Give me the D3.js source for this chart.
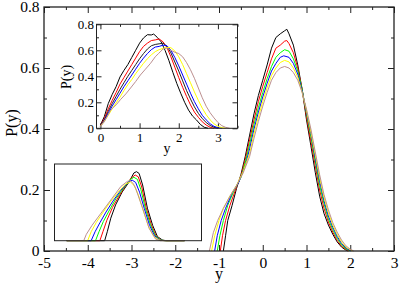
<!DOCTYPE html>
<html>
<head>
<meta charset="utf-8">
<script src="https://cdn.jsdelivr.net/npm/d3@7"></script>
<style>
  body { margin: 0; background: #fff; }
  svg text { font-family: "Liberation Serif", "Times New Roman", "DejaVu Serif", serif; fill: #000; }
</style>
</head>
<body>
<div id="chart"></div>
<script>
var w = 399, h = 283;
var serif = "'Liberation Serif', 'Times New Roman', 'DejaVu Serif', serif";

var seriesColors = ["#000000", "#ff0000", "#00ff00", "#0000ff", "#ffff00", "#bc8f8f"];
var insetColors = ["#000000", "#ff0000", "#222222", "#0000ff", "#ffff00", "#bc8f8f"];

//main plot: P(y) vs y, one [y, P] list per curve
var mainBlack = [[-0.9,0],[-0.85,0.05],[-0.8,0.1],[-0.7,0.15],[-0.6,0.205],[-0.5,0.25],[-0.4,0.31],[-0.3,0.38],[-0.2,0.45],[-0.1,0.51],[0,0.56],[0.1,0.61],[0.2,0.665],[0.3,0.70],[0.4,0.712],[0.5,0.722],[0.55,0.727],[0.6,0.712],[0.7,0.675],[0.8,0.61],[0.9,0.53],[1.0,0.43],[1.1,0.345],[1.2,0.258],[1.3,0.18],[1.4,0.123],[1.5,0.085],[1.6,0.055],[1.7,0.03],[1.8,0.013],[1.9,0.003],[1.95,0]];
var mainRed = [[-0.97,0],[-0.92,0.05],[-0.85,0.1],[-0.75,0.15],[-0.6,0.21],[-0.5,0.245],[-0.4,0.30],[-0.3,0.365],[-0.2,0.43],[-0.1,0.49],[0,0.54],[0.1,0.585],[0.2,0.63],[0.3,0.665],[0.4,0.675],[0.5,0.688],[0.55,0.69],[0.6,0.68],[0.7,0.65],[0.8,0.60],[0.9,0.53],[1.0,0.44],[1.1,0.36],[1.2,0.28],[1.3,0.2],[1.4,0.14],[1.5,0.095],[1.6,0.062],[1.7,0.035],[1.8,0.016],[1.9,0.005],[1.97,0]];
var mainGreen = [[-1.04,0],[-0.98,0.05],[-0.9,0.1],[-0.8,0.15],[-0.65,0.2],[-0.5,0.24],[-0.4,0.29],[-0.3,0.35],[-0.2,0.415],[-0.1,0.47],[0,0.52],[0.1,0.565],[0.2,0.605],[0.3,0.635],[0.4,0.65],[0.5,0.66],[0.6,0.655],[0.7,0.63],[0.8,0.59],[0.9,0.53],[1.0,0.45],[1.1,0.375],[1.2,0.295],[1.3,0.215],[1.4,0.155],[1.5,0.105],[1.6,0.07],[1.7,0.042],[1.8,0.02],[1.9,0.007],[2.0,0]];
var mainBlue = [[-1.1,0],[-1.04,0.05],[-0.95,0.1],[-0.85,0.14],[-0.7,0.19],[-0.55,0.225],[-0.4,0.28],[-0.3,0.335],[-0.2,0.40],[-0.1,0.455],[0,0.505],[0.1,0.55],[0.2,0.59],[0.3,0.615],[0.4,0.635],[0.48,0.64],[0.6,0.635],[0.7,0.615],[0.8,0.58],[0.9,0.525],[1.0,0.455],[1.1,0.385],[1.2,0.305],[1.3,0.23],[1.4,0.165],[1.5,0.115],[1.6,0.078],[1.7,0.048],[1.8,0.025],[1.9,0.01],[2.02,0]];
var mainYellow = [[-1.17,0],[-1.1,0.05],[-1.0,0.1],[-0.9,0.14],[-0.75,0.18],[-0.6,0.215],[-0.45,0.26],[-0.3,0.32],[-0.2,0.385],[-0.1,0.44],[0,0.49],[0.1,0.535],[0.2,0.575],[0.3,0.60],[0.4,0.618],[0.5,0.625],[0.6,0.62],[0.7,0.60],[0.8,0.57],[0.9,0.52],[1.0,0.46],[1.1,0.39],[1.2,0.315],[1.3,0.24],[1.4,0.175],[1.5,0.125],[1.6,0.085],[1.7,0.055],[1.8,0.03],[1.9,0.013],[2.0,0.004],[2.05,0]];
var mainBrown = [[-1.22,0],[-1.13,0.06],[-1.03,0.1],[-0.9,0.14],[-0.75,0.18],[-0.6,0.215],[-0.45,0.255],[-0.3,0.31],[-0.2,0.37],[-0.1,0.425],[0,0.475],[0.1,0.52],[0.2,0.56],[0.3,0.585],[0.4,0.60],[0.5,0.605],[0.6,0.60],[0.7,0.585],[0.8,0.56],[0.9,0.52],[1.0,0.465],[1.1,0.40],[1.2,0.325],[1.3,0.25],[1.4,0.185],[1.5,0.135],[1.6,0.093],[1.7,0.062],[1.8,0.036],[1.9,0.017],[2.0,0.006],[2.08,0]];

//upper inset
var topBlack = [[0,0.025],[0.1,0.09],[0.2,0.19],[0.3,0.26],[0.4,0.32],[0.5,0.395],[0.6,0.445],[0.7,0.49],[0.8,0.545],[0.9,0.6],[1.0,0.655],[1.1,0.695],[1.2,0.72],[1.3,0.718],[1.36,0.725],[1.45,0.70],[1.55,0.665],[1.65,0.6],[1.75,0.52],[1.85,0.43],[1.95,0.345],[2.05,0.27],[2.15,0.2],[2.25,0.14],[2.35,0.095],[2.45,0.065],[2.55,0.03],[2.65,0.008],[2.75,0]];
var topRed = [[0,0.02],[0.1,0.075],[0.2,0.15],[0.3,0.215],[0.4,0.275],[0.5,0.34],[0.6,0.39],[0.7,0.44],[0.8,0.49],[0.9,0.54],[1.0,0.59],[1.1,0.63],[1.2,0.655],[1.3,0.675],[1.4,0.68],[1.5,0.687],[1.6,0.665],[1.7,0.62],[1.8,0.55],[1.9,0.47],[2.0,0.39],[2.1,0.315],[2.2,0.245],[2.3,0.18],[2.4,0.125],[2.5,0.085],[2.6,0.05],[2.7,0.025],[2.8,0.008],[2.9,0]];
var topDark = [[0,0.02],[0.1,0.065],[0.2,0.13],[0.3,0.19],[0.4,0.245],[0.5,0.3],[0.6,0.35],[0.7,0.4],[0.8,0.445],[0.9,0.49],[1.0,0.535],[1.1,0.575],[1.2,0.61],[1.3,0.635],[1.4,0.645],[1.5,0.65],[1.6,0.655],[1.7,0.63],[1.8,0.58],[1.9,0.51],[2.0,0.44],[2.1,0.365],[2.2,0.29],[2.3,0.225],[2.4,0.165],[2.5,0.115],[2.6,0.075],[2.7,0.045],[2.8,0.022],[2.9,0.008],[3.0,0]];
var topBlue = [[0,0.015],[0.1,0.06],[0.2,0.115],[0.3,0.17],[0.4,0.22],[0.5,0.27],[0.6,0.32],[0.7,0.365],[0.8,0.41],[0.9,0.455],[1.0,0.5],[1.1,0.54],[1.2,0.575],[1.3,0.605],[1.4,0.625],[1.5,0.63],[1.6,0.64],[1.7,0.635],[1.8,0.6],[1.9,0.545],[2.0,0.48],[2.1,0.41],[2.2,0.34],[2.3,0.27],[2.4,0.205],[2.5,0.15],[2.6,0.1],[2.7,0.065],[2.8,0.035],[2.9,0.015],[3.0,0.005],[3.1,0]];
var topYellow = [[0,0.015],[0.1,0.055],[0.2,0.1],[0.3,0.15],[0.4,0.195],[0.5,0.24],[0.6,0.29],[0.7,0.335],[0.8,0.375],[0.9,0.42],[1.0,0.46],[1.1,0.5],[1.2,0.535],[1.3,0.565],[1.4,0.59],[1.5,0.605],[1.6,0.615],[1.7,0.622],[1.8,0.62],[1.9,0.595],[2.0,0.55],[2.1,0.49],[2.2,0.42],[2.3,0.35],[2.4,0.28],[2.5,0.215],[2.6,0.155],[2.7,0.105],[2.8,0.065],[2.9,0.035],[3.0,0.015],[3.1,0.005],[3.2,0]];
var topBrown = [[0,0.015],[0.1,0.05],[0.26,0.14],[0.4,0.18],[0.51,0.22],[0.65,0.265],[0.77,0.31],[0.9,0.36],[1.02,0.41],[1.15,0.455],[1.28,0.5],[1.4,0.55],[1.49,0.577],[1.6,0.61],[1.7,0.618],[1.8,0.6],[1.9,0.585],[2.0,0.575],[2.1,0.55],[2.2,0.505],[2.3,0.45],[2.4,0.385],[2.5,0.31],[2.6,0.235],[2.7,0.17],[2.8,0.12],[2.9,0.08],[3.0,0.045],[3.1,0.02],[3.2,0.007],[3.3,0]];

//lower inset (no tick labels in the picture, units read against the main y axis)
var lowBlack = [[-4.5,0],[-3.63,0],[-3.57,0.035],[-3.49,0.088],[-3.38,0.14],[-3.23,0.19],[-3.07,0.23],[-2.96,0.265],[-2.9,0.27],[-2.84,0.263],[-2.76,0.218],[-2.65,0.127],[-2.53,0.06],[-2.42,0.016],[-2.3,0.002],[-2.2,0],[-1.8,0]];
var lowRed = [[-4.5,0],[-3.74,0],[-3.67,0.035],[-3.58,0.08],[-3.45,0.13],[-3.3,0.175],[-3.15,0.215],[-3.02,0.245],[-2.93,0.257],[-2.86,0.25],[-2.78,0.21],[-2.68,0.13],[-2.56,0.062],[-2.45,0.018],[-2.33,0.002],[-2.22,0],[-1.8,0]];
var lowGreen = [[-4.5,0],[-3.84,0],[-3.76,0.035],[-3.66,0.075],[-3.52,0.12],[-3.37,0.165],[-3.2,0.205],[-3.05,0.238],[-2.96,0.248],[-2.88,0.24],[-2.8,0.2],[-2.7,0.128],[-2.58,0.062],[-2.47,0.02],[-2.35,0.003],[-2.24,0],[-1.8,0]];
var lowBlue = [[-4.5,0],[-3.94,0],[-3.85,0.035],[-3.74,0.07],[-3.6,0.112],[-3.44,0.155],[-3.27,0.195],[-3.1,0.228],[-3.0,0.237],[-2.92,0.228],[-2.83,0.19],[-2.72,0.125],[-2.6,0.06],[-2.49,0.02],[-2.37,0.003],[-2.26,0],[-1.8,0]];
var lowYellow = [[-4.5,0],[-4.02,0],[-3.94,0.035],[-3.82,0.072],[-3.66,0.113],[-3.5,0.152],[-3.32,0.19],[-3.15,0.222],[-3.04,0.23],[-2.95,0.215],[-2.86,0.18],[-2.75,0.12],[-2.63,0.058],[-2.51,0.018],[-2.39,0.003],[-2.28,0],[-1.8,0]];
var lowBrown = [[-4.5,0],[-4.11,0],[-4.05,0.025],[-3.92,0.06],[-3.69,0.113],[-3.46,0.166],[-3.26,0.212],[-3.11,0.232],[-3.04,0.235],[-2.97,0.222],[-2.92,0.205],[-2.76,0.127],[-2.61,0.048],[-2.46,0.006],[-2.35,0],[-1.8,0]];

var mainXTicks = [-5, -4, -3, -2, -1, 0, 1, 2, 3];
var mainXLabels = ["-5", "-4", "-3", "-2", "-1", "0", "1", "2", "3"];
var mainYTicks = [0, 0.2, 0.4, 0.6, 0.8];
var mainYLabels = ["0", "0.2", "0.4", "0.6", "0.8"];
var topXTicks = [0, 1, 2, 3];
var topXLabels = ["0", "1", "2", "3"];
var topYTicks = [0, 0.2, 0.4, 0.6, 0.8];
var topYLabels = ["0", "0.2", "0.4", "0.6", "0.8"];

var svg = d3.select("#chart")
    .append("svg")
    .attr("width", w)
    .attr("height", h);

//scales
var x = d3.scaleLinear().domain([-5, 3]).range([44, 394]);
var y = d3.scaleLinear().domain([0, 0.8]).range([251, 7]);
var xi = d3.scaleLinear().domain([-0.1, 3.5]).range([96.5, 237.5]);
var yi = d3.scaleLinear().domain([0, 0.8]).range([128.3, 24.3]);
var xl = d3.scaleLinear().domain([-4.78, -1.41]).range([54.5, 201.5]);
var yl = d3.scaleLinear().domain([0, 0.3]).range([240.7, 164]);

//draws a white box with inward ticks on all four sides
function frame(g, sx, sy, opt) {
    var x0 = sx.range()[0], x1 = sx.range()[1];
    var y0 = sy.range()[0], y1 = sy.range()[1];
    g.append("rect")
        .attr("x", x0).attr("y", y1)
        .attr("width", x1 - x0).attr("height", y0 - y1)
        .attr("fill", "#fff");

    var axes = [
        [d3.axisBottom(sx).tickValues(opt.xMajor).tickSize(-opt.tl).tickPadding(opt.xPad)
            .tickFormat(function (d, i) { return opt.xLabels[i]; }), "translate(0," + y0 + ")"],
        [d3.axisBottom(sx).tickValues(opt.xMinor).tickSize(-opt.tm).tickFormat(""), "translate(0," + y0 + ")"],
        [d3.axisTop(sx).tickValues(opt.xMajor).tickSize(-opt.tl).tickFormat(""), "translate(0," + y1 + ")"],
        [d3.axisTop(sx).tickValues(opt.xMinor).tickSize(-opt.tm).tickFormat(""), "translate(0," + y1 + ")"],
        [d3.axisLeft(sy).tickValues(opt.yMajor).tickSize(-opt.tl).tickPadding(opt.yPad)
            .tickFormat(function (d, i) { return opt.yLabels[i]; }), "translate(" + x0 + ",0)"],
        [d3.axisLeft(sy).tickValues(opt.yMinor).tickSize(-opt.tm).tickFormat(""), "translate(" + x0 + ",0)"],
        [d3.axisRight(sy).tickValues(opt.yMajor).tickSize(-opt.tl).tickFormat(""), "translate(" + x1 + ",0)"],
        [d3.axisRight(sy).tickValues(opt.yMinor).tickSize(-opt.tm).tickFormat(""), "translate(" + x1 + ",0)"]
    ];
    axes.forEach(function (a) {
        var ag = g.append("g").attr("transform", a[1]).call(a[0].tickSizeOuter(0));
        ag.attr("font-family", null).attr("font-size", null);
        ag.select(".domain").remove();
        ag.selectAll("line").attr("stroke", "#222").attr("stroke-width", 1);
        ag.selectAll("text")
            .style("font-family", serif)
            .style("font-size", opt.font + "px")
            .attr("fill", "#000");
    });
}

function frameLine(g, sx, sy, width) {
    g.append("rect")
        .attr("x", sx.range()[0]).attr("y", sy.range()[1])
        .attr("width", sx.range()[1] - sx.range()[0])
        .attr("height", sy.range()[0] - sy.range()[1])
        .attr("fill", "none")
        .attr("stroke", "#222")
        .attr("stroke-width", width);
}

function curves(g, sx, sy, list, colors) {
    var line = d3.line()
        .x(function (d) { return sx(d[0]); })
        .y(function (d) { return sy(d[1]); });
    g.selectAll("path.curve")
        .data(list)
        .enter()
        .append("path")
        .attr("class", "curve")
        .attr("d", line)
        .attr("fill", "none")
        .attr("stroke", function (d, i) { return colors[i]; })
        .attr("stroke-width", 1);
}

var mainG = svg.append("g");
frame(mainG, x, y, {
    xMajor: mainXTicks, xLabels: mainXLabels, xMinor: [-4.5, -3.5, -2.5, -1.5, -0.5, 0.5, 1.5, 2.5],
    yMajor: mainYTicks, yLabels: mainYLabels, yMinor: [0.1, 0.3, 0.5, 0.7],
    font: 15.5, xPad: 6, yPad: 4.5, tl: 6, tm: 3
});
curves(mainG, x, y, [mainBlack, mainRed, mainGreen, mainBlue, mainYellow, mainBrown], seriesColors);
frameLine(mainG, x, y, 1.3);

mainG.append("text")
    .attr("x", 219).attr("y", 279)
    .attr("text-anchor", "middle")
    .style("font-family", serif)
    .style("font-size", "16px")
    .text("y");
mainG.append("text")
    .attr("transform", "translate(17,123) rotate(-90)")
    .attr("text-anchor", "middle")
    .style("font-family", serif)
    .style("font-size", "16px")
    .text("P(y)");

//upper inset
var insetTop = svg.append("g");
frame(insetTop, xi, yi, {
    xMajor: topXTicks, xLabels: topXLabels, xMinor: [0.5, 1.5, 2.5, 3.5],
    yMajor: topYTicks, yLabels: topYLabels, yMinor: [0.1, 0.3, 0.5, 0.7],
    font: 13, xPad: 4, yPad: 2.5, tl: 5, tm: 2.5
});
curves(insetTop, xi, yi, [topBlack, topRed, topDark, topBlue, topYellow, topBrown], insetColors);
frameLine(insetTop, xi, yi, 1);
insetTop.append("text")
    .attr("x", 167).attr("y", 153)
    .attr("text-anchor", "middle")
    .style("font-family", serif)
    .style("font-size", "14px")
    .text("y");
insetTop.append("text")
    .attr("transform", "translate(71,77) rotate(-90)")
    .attr("text-anchor", "middle")
    .style("font-family", serif)
    .style("font-size", "14px")
    .text("P(y)");

//lower inset
var insetLow = svg.append("g");
insetLow.append("rect")
    .attr("x", xl.range()[0]).attr("y", yl.range()[1])
    .attr("width", xl.range()[1] - xl.range()[0])
    .attr("height", yl.range()[0] - yl.range()[1])
    .attr("fill", "#fff");
curves(insetLow, xl, yl, [lowBlack, lowRed, lowGreen, lowBlue, lowYellow, lowBrown], seriesColors);
frameLine(insetLow, xl, yl, 1);
</script>
</body>
</html>
